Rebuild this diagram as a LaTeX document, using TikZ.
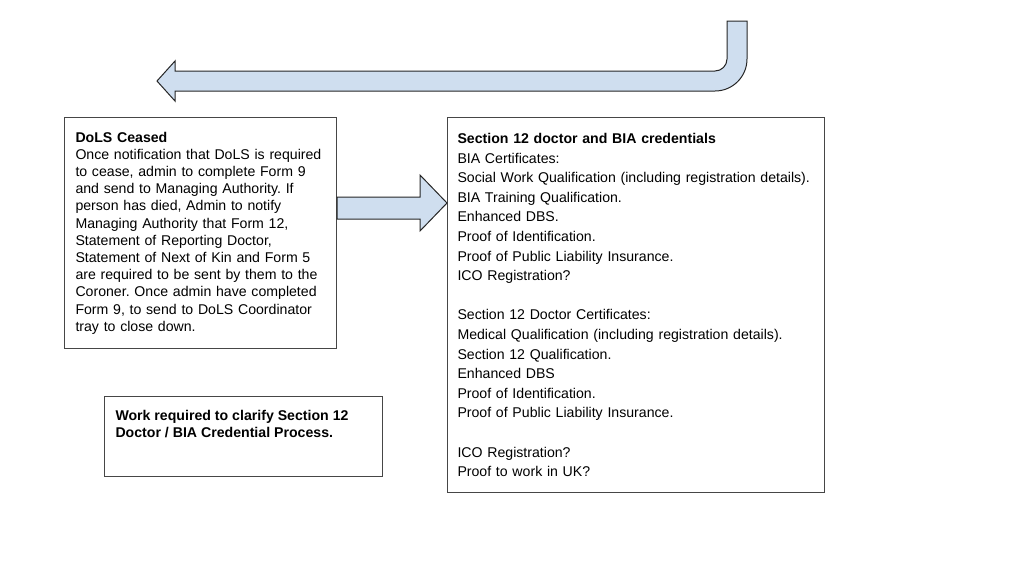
\documentclass[tikz,border=0pt]{standalone}
\usepackage{fontspec}
\setmainfont{Liberation Sans}
\usepackage{tikz}
\usetikzlibrary{calc}
\definecolor{arrowblue}{RGB}{207,222,239}
\definecolor{boxline}{RGB}{70,70,70}
\frenchspacing

\begin{document}
\begin{tikzpicture}[x=0.75pt,y=-0.75pt,
	textbox/.style={draw=boxline,line width=0.75pt,anchor=north west,align=left,inner ysep=0pt},
	blockarrow/.style={fill=arrowblue,draw=black!85,line width=0.75pt,line join=miter}]
	\useasboundingbox (0,0) rectangle (1024,576);
	\node[textbox,text width=187.5pt,inner xsep=8.25pt,minimum height=173.25pt,
		font=\fontsize{10.6}{12.9}\selectfont] (dols) at (64,117)
		{\textbf{DoLS Ceased}\\
		Once notification that DoLS is required\\
		to cease, admin to complete Form 9\\
		and send to Managing Authority. If\\
		person has died, Admin to notify\\
		Managing Authority that Form 12,\\
		Statement of Reporting Doctor,\\
		Statement of Next of Kin and Form 5\\
		are required to be sent by them to the\\
		Coroner. Once admin have completed\\
		Form 9, to send to DoLS Coordinator\\
		tray to close down.};
	\node[textbox,text width=267.75pt,inner xsep=7.5pt,minimum height=281.25pt,
		font=\fontsize{10.6}{14.7}\selectfont] (creds) at (447,117)
		{\textbf{Section 12 doctor and BIA credentials}\\
		BIA Certificates:\\
		Social Work Qualification (including registration details).\\
		BIA Training Qualification.\\
		Enhanced DBS.\\
		Proof of Identification.\\
		Proof of Public Liability Insurance.\\
		ICO Registration?\\[14.7pt]
		Section 12 Doctor Certificates:\\
		Medical Qualification (including registration details).\\
		Section 12 Qualification.\\
		Enhanced DBS\\
		Proof of Identification.\\
		Proof of Public Liability Insurance.\\[14.7pt]
		ICO Registration?\\
		Proof to work in UK?};
	\node[textbox,inner xsep=8.25pt,inner ysep=10.5pt,font=\fontsize{10.6}{12.9}\selectfont] (work) at (104,396)
		{\parbox[t][39pt][t]{192pt}{\bfseries Work required to clarify Section 12\\
		Doctor / BIA Credential Process.}};
	\draw[blockarrow] ($(dols.north east)+(0,80)$) -- ++(83,0) -- ++(0,-22)
		-- ($(creds.north west)+(0,86)$) -- ($(dols.north east)+(83,114)$) -- ++(0,-12)
		-- ($(dols.north east)+(0,102)$) -- cycle;
	\coordinate (turnin) at ($(creds.north west)+(280,-96)$);
	\draw[blockarrow] (turnin) -- ++(20,0) -- (747,59) .. controls (747,76.7) and (732.7,91) .. (715,91)
		-- (175,91) -- (175,101) -- (157,81) -- (175,61) -- (175,71) -- (715,71)
		.. controls (721.6,71) and (727,65.6) .. (727,59) -- cycle;
\end{tikzpicture}
\end{document}
